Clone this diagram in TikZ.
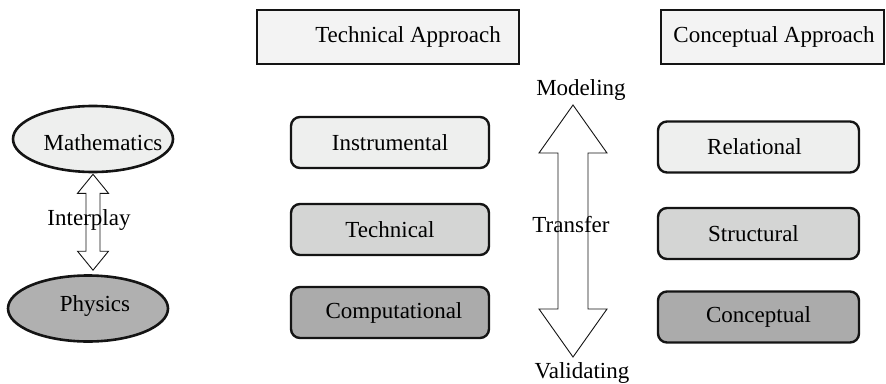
\documentclass[tikz,border=0pt]{standalone}
\usepackage{fontspec}
\setmainfont{Liberation Serif}
\usetikzlibrary{shapes.geometric,calc}
\definecolor{fillA}{HTML}{EEEFEE}
\definecolor{fillB}{HTML}{D4D5D4}
\definecolor{fillC}{HTML}{ABABAB}
\definecolor{fillTop}{HTML}{F3F3F3}
\definecolor{fillPhys}{HTML}{B0B0B0}
\definecolor{edge}{HTML}{141414}
\begin{document}
\begin{tikzpicture}[x=1pt,y=-1pt,
  every node/.style={font=\fontsize{23}{27}\selectfont, inner sep=0pt},
  headbox/.style={draw=edge, line width=2.6pt, fill=fillTop, rectangle},
  levelbox/.style={draw=edge, line width=2.4pt, rounded corners=9pt, rectangle,
                   minimum height=51pt},
  techbox/.style={levelbox, minimum width=198pt},
  concbox/.style={levelbox, minimum width=201pt},
  subject/.style={draw=edge, line width=2.6pt, ellipse, minimum width=160pt, minimum height=66pt},
  hollow/.style={draw=edge, line width=0.9pt, fill=white, line join=miter}
]
\useasboundingbox (0,0) rectangle (886,383);

% column headers
\node[headbox, minimum width=262pt, minimum height=54pt] (techhead) at (388,37) {};
\node at (408,37) {Technical Approach};
\node[headbox, minimum width=223pt, minimum height=54pt] (conchead) at (772.5,37) {};
\node at (774,37) {Conceptual Approach};

% technical levels
\node[techbox, fill=fillA] (instr) at (390,142.5) {Instrumental};
\node[techbox, fill=fillB] (techn) at (390,229.5) {Technical};
\node[techbox, fill=fillC] (comp)  at (390,312.5) {\hspace{8pt}Computational};

% conceptual levels
\node[concbox, fill=fillA] (rel)    at (758.5,147) {\hspace{-8pt}Relational};
\node[concbox, fill=fillB] (struct) at (758.5,233.5) {\hspace{-10pt}Structural};
\node[concbox, fill=fillC] (concp)  at (758.5,317) {Conceptual};

% subjects
\node[subject, fill=fillA] (math) at (93,139) {};
\node at (103,143) {Mathematics};
\node[subject, fill=fillPhys] (phys) at (88,308.5) {};
\node at (95,306) {Physics};

% interplay double arrow between the subjects
\coordinate (itop) at ($(math.south)+(0,1)$);
\coordinate (ibot) at ($(phys.north)+(5,-4)$);
\draw[hollow] (itop) -- ++(15.5,19) -- ++(-8.5,0) -- ($(ibot)+(7,-19)$)
  -- ++(8.5,0) -- (ibot) -- ++(-15.5,-19) -- ++(8.5,0) -- ($(itop)+(-7,19)$)
  -- ++(-8.5,0) -- cycle;
\node (interplay) at (89,220) {Interplay};

% transfer double arrow between modeling and validating
\node (model) at (581,90) {Modeling};
\node (valid) at (582,373) {Validating};
\coordinate (ttop) at (573,105);
\coordinate (tbot) at (573,357);
\draw[hollow] (ttop) -- ++(34,48) -- ++(-19,0) -- ($(tbot)+(15,-48)$)
  -- ++(19,0) -- (tbot) -- ++(-34,-48) -- ++(19,0) -- ($(ttop)+(-15,48)$)
  -- ++(-19,0) -- cycle;
\node (transfer) at (571,225) {Transfer};
\end{tikzpicture}
\end{document}
